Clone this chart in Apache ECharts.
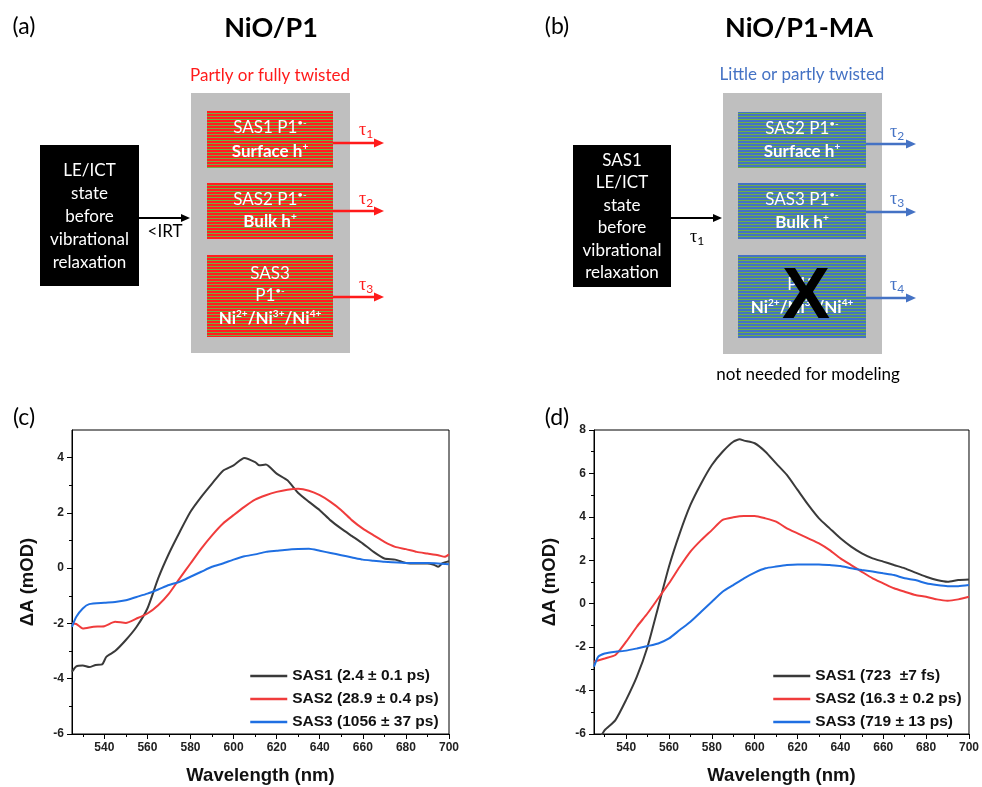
<!DOCTYPE html>
<html><head><meta charset="utf-8">
<script src="https://cdn.jsdelivr.net/npm/echarts@6/dist/echarts.min.js"></script>
<style>html,body{margin:0;padding:0;background:#fff}#c{width:982px;height:787px}</style>
</head><body><div id="c"></div>
<script>
// ---------------- data ----------------
const X_TICKS = [540, 560, 580, 600, 620, 640, 660, 680, 700];
const X_MINOR = [530, 550, 570, 590, 610, 630, 650, 670, 690];
const C_Y_TICKS = [-6, -4, -2, 0, 2, 4];
const C_Y_MINOR = [-5, -3, -1, 1, 3];
const D_Y_TICKS = [-6, -4, -2, 0, 2, 4, 6, 8];
const D_Y_MINOR = [-5, -3, -1, 1, 3, 5, 7];

const C_NAMES = ['SAS1 (2.4 \u00b1 0.1 ps)', 'SAS2 (28.9 \u00b1 0.4 ps)', 'SAS3 (1056 \u00b1 37 ps)'];
const D_NAMES = ['SAS1 (723  \u00b17 fs)', 'SAS2 (16.3 \u00b1 0.2 ps)', 'SAS3 (719 \u00b1 13 ps)'];

// panel (c)
const C1_X = [525, 527, 530, 533, 536, 539, 541, 545, 550, 555, 560, 565, 570, 575, 580, 585, 590, 595, 600, 605, 610, 612, 615, 620, 625, 630, 635, 640, 645, 650, 655, 660, 665, 670, 675, 680, 685, 690, 693, 695, 697, 700];
const C1_Y = [-3.75, -3.55, -3.52, -3.58, -3.5, -3.48, -3.2, -3.0, -2.6, -2.12, -1.46, -0.37, 0.53, 1.31, 2.04, 2.58, 3.06, 3.52, 3.72, 3.99, 3.84, 3.72, 3.75, 3.42, 3.18, 2.72, 2.4, 2.1, 1.73, 1.43, 1.16, 0.89, 0.59, 0.35, 0.31, 0.19, 0.17, 0.17, 0.12, 0.05, 0.18, 0.25];
const C2_X = [525, 527, 530, 535, 540, 545, 550, 555, 560, 565, 570, 575, 580, 585, 590, 595, 600, 605, 610, 615, 620, 625, 630, 635, 640, 645, 650, 655, 660, 665, 670, 675, 680, 685, 690, 695, 698, 700];
const C2_Y = [-2.0, -2.02, -2.18, -2.12, -2.1, -1.94, -1.98, -1.82, -1.64, -1.34, -0.92, -0.37, 0.17, 0.71, 1.19, 1.61, 1.92, 2.22, 2.48, 2.64, 2.76, 2.84, 2.87, 2.8, 2.64, 2.4, 2.1, 1.73, 1.43, 1.19, 0.95, 0.77, 0.69, 0.59, 0.53, 0.47, 0.41, 0.5];
const C3_X = [525, 527, 530, 533, 540, 545, 550, 555, 560, 565, 570, 575, 580, 585, 590, 595, 600, 605, 610, 615, 620, 625, 630, 635, 640, 645, 650, 655, 660, 665, 670, 680, 690, 700];
const C3_Y = [-2.12, -1.76, -1.46, -1.3, -1.25, -1.22, -1.16, -1.04, -0.92, -0.77, -0.61, -0.49, -0.31, -0.13, 0.05, 0.17, 0.31, 0.43, 0.5, 0.59, 0.63, 0.67, 0.69, 0.7, 0.63, 0.55, 0.47, 0.39, 0.31, 0.27, 0.23, 0.19, 0.19, 0.14];

// panel (d)
const D1_X = [525, 528, 530, 535, 540, 545, 550, 555, 560, 565, 570, 575, 580, 585, 590, 593, 595, 600, 605, 610, 615, 620, 625, 630, 635, 640, 645, 650, 655, 660, 665, 670, 675, 680, 685, 690, 695, 700];
const D1_Y = [-6.7, -6.15, -5.82, -5.36, -4.43, -3.36, -1.98, -0.14, 1.71, 3.24, 4.55, 5.54, 6.39, 7.0, 7.46, 7.57, 7.51, 7.39, 7.0, 6.46, 5.93, 5.24, 4.55, 3.93, 3.47, 3.01, 2.63, 2.32, 2.09, 1.94, 1.78, 1.63, 1.43, 1.24, 1.09, 1.01, 1.09, 1.12];
const D2_X = [525, 530, 535, 540, 545, 550, 555, 560, 565, 570, 575, 580, 585, 590, 595, 600, 605, 610, 615, 620, 625, 630, 635, 640, 645, 650, 655, 660, 665, 670, 675, 680, 685, 690, 695, 700];
const D2_Y = [-2.67, -2.52, -2.36, -1.75, -1.06, -0.44, 0.25, 0.94, 1.7, 2.4, 2.93, 3.39, 3.86, 3.98, 4.04, 4.04, 3.93, 3.78, 3.47, 3.24, 3.01, 2.78, 2.47, 2.09, 1.78, 1.47, 1.17, 0.94, 0.71, 0.55, 0.4, 0.32, 0.2, 0.14, 0.2, 0.32];
const D3_X = [525, 527, 530, 535, 540, 545, 550, 555, 560, 565, 570, 575, 580, 585, 590, 595, 600, 605, 610, 615, 620, 625, 630, 635, 640, 645, 650, 655, 660, 665, 670, 675, 680, 685, 690, 695, 700];
const D3_Y = [-2.9, -2.44, -2.29, -2.21, -2.16, -2.06, -1.95, -1.83, -1.6, -1.21, -0.83, -0.37, 0.09, 0.55, 0.86, 1.17, 1.43, 1.63, 1.71, 1.78, 1.81, 1.81, 1.81, 1.78, 1.74, 1.63, 1.55, 1.48, 1.4, 1.32, 1.17, 1.09, 0.94, 0.86, 0.81, 0.81, 0.86];

// ---------------- styling ----------------
const COLORS = ['#3a3a3a', '#f03c3c', '#1f6fe2'];
const AF = 'Liberation Sans';
const DF = 'Lato';
const FS = 17;
const RED = '#ff1a1a';
const BLUE = '#4472c4';

function pairs(xs, ys) { return xs.map((x, i) => [x, ys[i]]); }

function stripes(c1, c2) {
  const cv = document.createElement('canvas');
  cv.width = 4; cv.height = 3;
  const g = cv.getContext('2d');
  g.fillStyle = c1; g.fillRect(0, 0, 4, 2);
  g.fillStyle = c2; g.fillRect(0, 2, 4, 1);
  return { image: cv, repeat: 'repeat' };
}

const G = [];
function rect(x, y, w, h, fill) {
  G.push({ type: 'rect', silent: true, z: 1, shape: { x, y, width: w, height: h }, style: { fill } });
}
function text(x, y, t, o) {
  G.push({ type: 'text', silent: true, z: 5, style: Object.assign({ x, y, text: t, align: 'center', verticalAlign: 'middle', fill: '#000', fontFamily: DF, fontSize: FS }, o || {}) });
}
function arrow(x1, y, x2, color, w, hl, hw) {
  G.push({ type: 'line', silent: true, z: 3, shape: { x1, y1: y, x2: x2 - hl + 1, y2: y }, style: { stroke: color, lineWidth: w } });
  G.push({ type: 'polygon', silent: true, z: 3, shape: { points: [[x2 - hl, y - hw / 2], [x2, y], [x2 - hl, y + hw / 2]] }, style: { fill: color } });
}
function sup(main, s, bold, color) {
  return {
    text: '{m|' + main + '}{s|' + s + '}',
    rich: {
      m: { fontSize: FS, fontWeight: bold ? 'bold' : 'normal', fill: color, fontFamily: DF, lineHeight: 20 },
      s: { fontSize: 10, fontWeight: bold ? 'bold' : 'normal', fill: color, fontFamily: DF, lineHeight: 10, verticalAlign: 'top' }
    }
  };
}
function tau(x, y, n, color) {
  G.push({ type: 'text', silent: true, z: 5, style: {
    x, y, align: 'center', verticalAlign: 'middle',
    text: '{t|\u03c4}{s|' + n + '}',
    rich: {
      t: { fontSize: 18, fill: color, fontFamily: 'Liberation Serif', lineHeight: 20 },
      s: { fontSize: 12, fill: color, fontFamily: DF, lineHeight: 11, verticalAlign: 'bottom' }
    }
  } });
}
function richText(x, y, parts) {
  G.push({ type: 'text', silent: true, z: 5, style: Object.assign({ x, y, align: 'center', verticalAlign: 'middle' }, parts) });
}
function niLine(x, y, color) {
  const R = {
    m: { fontSize: FS, fontWeight: 'bold', fill: color, fontFamily: DF, lineHeight: 20 },
    s: { fontSize: 10, fontWeight: 'bold', fill: color, fontFamily: DF, lineHeight: 10, verticalAlign: 'top' }
  };
  richText(x, y, { text: '{m|Ni}{s|2+}{m|/Ni}{s|3+}{m|/Ni}{s|4+}', rich: R });
}

// ---- panel labels and titles ----
text(24, 27, '(a)', { fontSize: 23 });
text(557, 27, '(b)', { fontSize: 23 });
text(24, 418, '(c)', { fontSize: 23 });
text(557, 418, '(d)', { fontSize: 23 });
text(271, 28, 'NiO/P1', { fontSize: 27, fontWeight: 'bold' });
text(799, 28, 'NiO/P1-MA', { fontSize: 27, fontWeight: 'bold' });

// ---- panel (a) ----
text(270, 76, 'Partly or fully twisted', { fill: RED });
rect(191, 93, 159, 260, '#bfbfbf');
const PA = stripes('#ff1f1f', '#6fae46');
rect(207, 111, 126, 57, PA);
rect(207, 183, 126, 56, PA);
rect(207, 255, 126, 82, PA);
richText(270, 128, sup('SAS1 P1', '\u2022-', false, '#fff'));
richText(270, 152, sup('Surface h', '+', true, '#fff'));
richText(270, 200, sup('SAS2 P1', '\u2022-', false, '#fff'));
richText(270, 222, sup('Bulk h', '+', true, '#fff'));
text(270, 274, 'SAS3', { fill: '#fff' });
richText(270, 296, sup('P1', '\u2022-', false, '#fff'));
niLine(270, 319, '#fff');
rect(40, 145, 99, 141, '#000');
['LE/ICT', 'state', 'before', 'vibrational', 'relaxation'].forEach((t, i) => text(89.5, 171 + i * 22.8, t, { fill: '#fff' }));
arrow(139, 218, 190, '#000', 2, 9, 8);
text(165, 232, '<IRT');
arrow(333, 143, 384, RED, 2.5, 10, 9);
arrow(333, 211, 384, RED, 2.5, 10, 9);
arrow(333, 297, 384, RED, 2.5, 10, 9);
tau(366, 130, '1', RED);
tau(366, 199, '2', RED);
tau(366, 285, '3', RED);

// ---- panel (b) ----
text(802, 75, 'Little or partly twisted', { fill: BLUE });
rect(723, 93, 159, 261, '#bfbfbf');
const PB = stripes('#4472c4', '#6fae46');
rect(738, 112, 128, 56, PB);
rect(738, 183, 128, 56, PB);
rect(738, 255, 128, 83, PB);
richText(802, 129, sup('SAS2 P1', '\u2022-', false, '#fff'));
richText(802, 152, sup('Surface h', '+', true, '#fff'));
richText(802, 200, sup('SAS3 P1', '\u2022-', false, '#fff'));
richText(802, 223, sup('Bulk h', '+', true, '#fff'));
richText(802, 285, sup('P1', '\u2022-', false, '#fff'));
niLine(802, 308, '#fff');
text(806, 298, 'X', { fontSize: 72, fontWeight: 'bold', fontFamily: AF });
rect(573, 145, 98, 142, '#000');
['SAS1', 'LE/ICT', 'state', 'before', 'vibrational', 'relaxation'].forEach((t, i) => text(622, 160.5 + i * 22.5, t, { fill: '#fff' }));
arrow(671, 218, 722, '#000', 2, 9, 8);
tau(697, 237, '1', '#000');
arrow(866, 144, 916, BLUE, 2.5, 10, 9);
arrow(866, 212, 916, BLUE, 2.5, 10, 9);
arrow(866, 298, 916, BLUE, 2.5, 10, 9);
tau(897, 132, '2', BLUE);
tau(897, 199, '3', BLUE);
tau(897, 285, '4', BLUE);
text(808, 375, 'not needed for modeling');

// ---------------- charts ----------------
const axisTxt = { fontFamily: AF, fontWeight: 'bold', fontSize: 12, color: '#222' };
const nameTxt = { fontFamily: AF, fontWeight: 'bold', fontSize: 18.5, color: '#111' };

function xAxes(gi) {
  return [
    { gridIndex: gi, type: 'value', min: 525, max: 700, position: 'bottom',
      name: 'Wavelength (nm)', nameLocation: 'middle', nameGap: 32, nameTextStyle: nameTxt,
      axisLine: { onZero: false, lineStyle: { color: '#000', width: 1 } },
      axisTick: { show: true, length: 5, inside: false, customValues: X_TICKS, lineStyle: { color: '#000' } },
      axisLabel: { customValues: X_TICKS, margin: 8, ...axisTxt },
      splitLine: { show: false } },
    { gridIndex: gi, type: 'value', min: 525, max: 700, position: 'bottom',
      axisLine: { show: false, onZero: false },
      axisTick: { show: true, length: 3, customValues: X_MINOR, lineStyle: { color: '#000' } },
      axisLabel: { show: false }, splitLine: { show: false } }
  ];
}
function yAxes(gi, min, max, ticks, minor) {
  return [
    { gridIndex: gi, type: 'value', min, max, position: 'left',
      name: '\u0394A (mOD)', nameLocation: 'middle', nameGap: 35, nameRotate: 90, nameTextStyle: nameTxt,
      axisLine: { show: true, onZero: false, lineStyle: { color: '#000', width: 1 } },
      axisTick: { show: true, length: 5, customValues: ticks, lineStyle: { color: '#000' } },
      axisLabel: { customValues: ticks, margin: 8, ...axisTxt },
      splitLine: { show: false } },
    { gridIndex: gi, type: 'value', min, max, position: 'left',
      axisLine: { show: false, onZero: false },
      axisTick: { show: true, length: 3, customValues: minor, lineStyle: { color: '#000' } },
      axisLabel: { show: false }, splitLine: { show: false } }
  ];
}
function ser(name, xs, ys, xi, yi, color) {
  return { name, type: 'line', xAxisIndex: xi, yAxisIndex: yi, data: pairs(xs, ys), symbol: 'none', smooth: 0.2,
    lineStyle: { color, width: 2 }, itemStyle: { color }, z: 3, animation: false };
}
const legendBase = { orient: 'vertical', itemWidth: 37, itemHeight: 14, itemGap: 7, selectedMode: false,
  itemStyle: { opacity: 0 }, lineStyle: { width: 2.5 },
  textStyle: { fontFamily: AF, fontWeight: 'bold', fontSize: 15.5, color: '#111' } };

const chart = echarts.init(document.getElementById('c'), null, { renderer: 'canvas' });
chart.setOption({
  animation: false,
  backgroundColor: '#fff',
  grid: [
    { left: 72, top: 430, width: 377, height: 304, show: true, borderColor: '#000', borderWidth: 1, backgroundColor: 'transparent' },
    { left: 594, top: 430, width: 377, height: 304, show: true, borderColor: '#000', borderWidth: 1, backgroundColor: 'transparent' }
  ],
  xAxis: [...xAxes(0), ...xAxes(1)],
  yAxis: [...yAxes(0, -6, 5, C_Y_TICKS, C_Y_MINOR), ...yAxes(1, -6, 8, D_Y_TICKS, D_Y_MINOR)],
  legend: [
    Object.assign({ data: C_NAMES, left: 244, top: 663 }, legendBase),
    Object.assign({ data: D_NAMES, left: 767, top: 663 }, legendBase)
  ],
  series: [
    ser(C_NAMES[0], C1_X, C1_Y, 0, 0, COLORS[0]),
    ser(C_NAMES[1], C2_X, C2_Y, 0, 0, COLORS[1]),
    ser(C_NAMES[2], C3_X, C3_Y, 0, 0, COLORS[2]),
    ser(D_NAMES[0], D1_X, D1_Y, 2, 2, COLORS[0]),
    ser(D_NAMES[1], D2_X, D2_Y, 2, 2, COLORS[1]),
    ser(D_NAMES[2], D3_X, D3_Y, 2, 2, COLORS[2])
  ],
  graphic: G
});
</script>
</body></html>
